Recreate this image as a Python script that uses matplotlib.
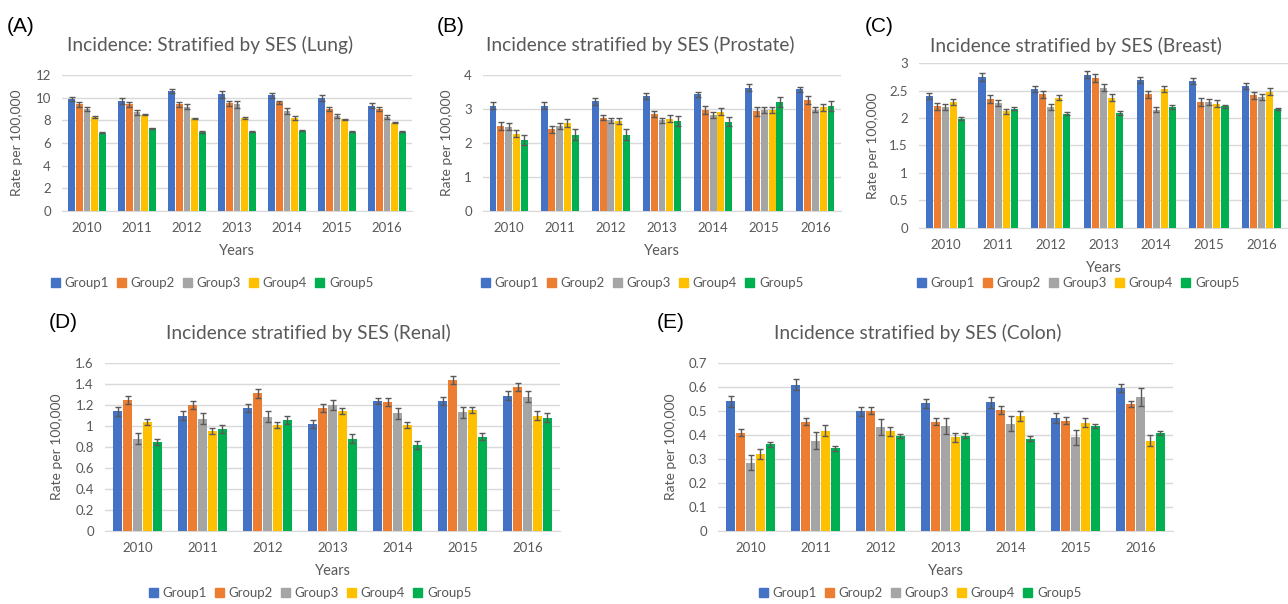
import numpy as np
import matplotlib
matplotlib.use("Agg")
import matplotlib.pyplot as plt
from matplotlib.patches import Patch

plt.rcParams["font.family"] = ["Lato", "DejaVu Sans"]

years = ["2010", "2011", "2012", "2013", "2014", "2015", "2016"]
groups = ["Group1", "Group2", "Group3", "Group4", "Group5"]
colors = ["#4472C4", "#ED7D31", "#A5A5A5", "#FFC000", "#00B050"]

# rows = years, columns = Group1..Group5
lung = [[9.9, 9.4, 9.0, 8.3, 6.9],
        [9.7, 9.4, 8.7, 8.5, 7.3],
        [10.6, 9.4, 9.2, 8.2, 7.0],
        [10.3, 9.5, 9.4, 8.2, 7.0],
        [10.2, 9.6, 8.8, 8.2, 7.1],
        [10.0, 9.0, 8.4, 8.1, 7.0],
        [9.3, 9.0, 8.3, 7.8, 7.0]]
lung_err = [[.2, .2, .2, .1, .05],
            [.25, .2, .25, .05, .05],
            [.2, .2, .2, .05, .1],
            [.3, .2, .3, .1, .05],
            [.2, .15, .25, .15, .05],
            [.25, .15, .15, .05, .05],
            [.2, .2, .2, .05, .05]]

prostate = [[3.1, 2.5, 2.48, 2.27, 2.08],
            [3.1, 2.4, 2.5, 2.58, 2.25],
            [3.23, 2.75, 2.67, 2.65, 2.25],
            [3.38, 2.85, 2.67, 2.72, 2.65],
            [3.43, 2.98, 2.83, 2.92, 2.63],
            [3.63, 2.93, 2.97, 2.97, 3.2],
            [3.58, 3.27, 2.98, 3.05, 3.1]]
prostate_err = [[.1, .12, .1, .1, .15],
                [.1, .1, .08, .12, .15],
                [.1, .08, .08, .1, .15],
                [.08, .08, .08, .1, .15],
                [.07, .12, .08, .1, .13],
                [.1, .13, .08, .1, .15],
                [.08, .12, .08, .1, .15]]

breast = [[2.40, 2.21, 2.20, 2.29, 1.99],
          [2.74, 2.34, 2.27, 2.12, 2.17],
          [2.53, 2.43, 2.20, 2.37, 2.08],
          [2.79, 2.73, 2.55, 2.37, 2.09],
          [2.69, 2.43, 2.15, 2.53, 2.20],
          [2.67, 2.29, 2.29, 2.26, 2.21],
          [2.58, 2.41, 2.38, 2.48, 2.16]]
breast_err = [[.06, .07, .05, .06, .03],
              [.07, .07, .06, .05, .03],
              [.06, .07, .05, .05, .03],
              [.06, .07, .06, .06, .04],
              [.06, .07, .05, .06, .03],
              [.06, .07, .06, .06, .03],
              [.06, .07, .06, .06, .02]]

renal = [[1.14, 1.25, 0.88, 1.04, 0.85],
         [1.10, 1.20, 1.07, 0.95, 0.97],
         [1.17, 1.31, 1.09, 1.01, 1.06],
         [1.02, 1.17, 1.20, 1.14, 0.88],
         [1.24, 1.23, 1.12, 1.01, 0.82],
         [1.24, 1.44, 1.13, 1.15, 0.90],
         [1.29, 1.37, 1.28, 1.10, 1.08]]
renal_err = [[.04, .04, .05, .03, .03],
             [.04, .04, .05, .03, .04],
             [.04, .04, .05, .03, .04],
             [.04, .04, .05, .03, .04],
             [.03, .04, .05, .03, .04],
             [.04, .04, .05, .03, .03],
             [.04, .04, .05, .04, .04]]

colon = [[0.540, 0.410, 0.285, 0.320, 0.362],
         [0.610, 0.456, 0.377, 0.418, 0.345],
         [0.498, 0.502, 0.433, 0.415, 0.397],
         [0.532, 0.456, 0.437, 0.390, 0.397],
         [0.536, 0.504, 0.447, 0.480, 0.384],
         [0.470, 0.460, 0.390, 0.452, 0.436],
         [0.596, 0.530, 0.558, 0.376, 0.408]]
colon_err = [[.022, .016, .032, .02, .01],
             [.022, .014, .035, .022, .01],
             [.02, .016, .032, .02, .008],
             [.02, .016, .032, .02, .01],
             [.022, .016, .032, .022, .01],
             [.02, .016, .032, .02, .008],
             [.018, .012, .036, .022, .008]]

W, H = 1288, 604
fig = plt.figure(figsize=(W / 100, H / 100), dpi=100)
txt = "#595959"


def fx(x):
    return x / W


def fy(y):
    return 1 - y / H


def panel(box, vals, errs, ymax, step, fmt, title, title_xy, letter, letter_xy,
          leg_y, ylab_dist):
    x0, x1, ytop, ybot = box
    ax = fig.add_axes([fx(x0), fy(ybot), (x1 - x0) / W, (ybot - ytop) / H])
    vals = np.array(vals).T
    errs = np.array(errs).T
    x = np.arange(len(years))
    bw = 0.135
    for g in range(len(groups)):
        ax.bar(x + (g - 2) * 0.152, vals[g], bw, color=colors[g], yerr=errs[g],
               error_kw=dict(ecolor="#595959", elinewidth=1, capsize=2.5, capthick=1),
               zorder=3)
    ax.set_xlim(-0.5, len(years) - 0.5)
    ax.set_ylim(0, ymax)
    ticks = np.arange(0, ymax + step / 2, step)
    ax.set_yticks(ticks)
    ax.set_yticklabels([fmt(t) for t in ticks])
    ax.set_xticks(x)
    ax.set_xticklabels(years)
    ax.grid(axis="y", color="#D9D9D9", lw=1, zorder=0)
    for s in ["top", "right", "left"]:
        ax.spines[s].set_visible(False)
    ax.spines["bottom"].set_color("#D9D9D9")
    ax.tick_params(length=0, labelsize=9.5, colors=txt)
    ax.tick_params(axis="y", pad=8)
    ax.tick_params(axis="x", pad=8)
    ax.set_xlabel("Years", fontsize=10.5, color=txt, labelpad=7)
    ax.set_ylabel("Rate per 100,000", fontsize=10, color=txt)
    ax.yaxis.set_label_coords(-ylab_dist / (x1 - x0), 0.5)
    fig.text(fx(title_xy[0]), fy(title_xy[1]), title, fontsize=13.8, color=txt,
             ha="center", va="center")
    fig.text(fx(letter_xy[0]), fy(letter_xy[1]), letter, fontsize=15,
             family=["Liberation Sans", "DejaVu Sans"], ha="left", va="center")
    handles = [Patch(color=c, label=l) for c, l in zip(colors, groups)]
    fig.legend(handles=handles, loc="center", ncol=5, frameon=False,
               bbox_to_anchor=(fx(title_xy[0] + 2), fy(leg_y)), fontsize=9.5,
               handlelength=0.7, handleheight=0.7, handletextpad=0.35,
               columnspacing=0.6, labelcolor=txt)
    return ax


def num(t):
    return "%g" % round(t, 2)


panel((62, 412, 75, 211), lung, lung_err, 12, 2, num,
      "Incidence: Stratified by SES (Lung)", (210, 45), "(A)", (7, 26), 283, 39)
panel((483, 841, 75, 211), prostate, prostate_err, 4, 1, num,
      "Incidence stratified by SES (Prostate)", (640, 45), "(B)", (437, 26), 283, 30)
panel((919, 1288, 63, 228), breast, breast_err, 3, 0.5, num,
      "Incidence stratified by SES (Breast)", (1076, 46), "(C)", (865, 26), 283, 40)
panel((105, 560, 363, 531), renal, renal_err, 1.6, 0.2, num,
      "Incidence stratified by SES (Renal)", (308, 333), "(D)", (49, 323), 593, 42)
panel((718, 1173, 363, 531), colon, colon_err, 0.7, 0.1, num,
      "Incidence stratified by SES (Colon)", (918, 333), "(E)", (657, 323), 593, 41)

fig.savefig("out.png", dpi=100)
